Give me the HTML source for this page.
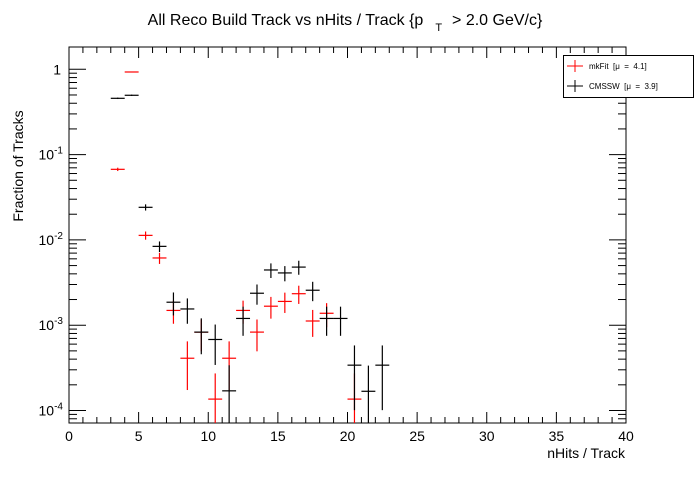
<!DOCTYPE html>
<html><head><meta charset="utf-8"><style>
body{margin:0;background:#fff;font-family:"Liberation Sans",sans-serif}
svg text{font-family:"Liberation Sans",sans-serif;white-space:pre}
</style></head><body>
<svg id="c" width="696" height="472" xmlns="http://www.w3.org/2000/svg">
<rect width="696" height="472" fill="#fff"/>
<text x="345" y="25" font-size="16" text-anchor="middle">All Reco Build Track vs nHits / Track {p<tspan dx="12" dy="6" font-size="11">T</tspan><tspan dx="10" dy="-6">&gt; 2.0 GeV/c}</tspan></text>
<rect x="69" y="47" width="557" height="376" fill="none" stroke="#000" stroke-width="1"/>
<g id="axes"></g>
<g id="series"></g>
<text x="625" y="458" font-size="14" text-anchor="end">nHits / Track</text>
<text transform="translate(23,166) rotate(-90)" font-size="14" text-anchor="middle">Fraction of Tracks</text>
<g>
<rect x="563.5" y="55.5" width="130" height="42" fill="#fff" stroke="#000"/>
<line x1="567" x2="583" y1="66" y2="66" stroke="red"/><line x1="575" x2="575" y1="60" y2="72" stroke="red"/>
<text x="589" y="69" font-size="8">mkFit  [μ  =  4.1]</text>
<line x1="567" x2="583" y1="86" y2="86" stroke="#000"/><line x1="575" x2="575" y1="80" y2="92" stroke="#000"/>
<text x="589" y="89" font-size="8">CMSSW  [μ  =  3.9]</text>
</g>
</svg>
<script>
const binCenters=[3.5,4.5,5.5,6.5,7.5,8.5,9.5,10.5,11.5,12.5,13.5,14.5,15.5,16.5,17.5,18.5,19.5,20.5,21.5,22.5];
const cmsswValues=[0.457,0.496,0.0241,0.0084,0.00186,0.00155,0.00083,0.00068,0.00017,0.0012,0.00237,0.00444,0.0041,0.0048,0.00257,0.0012,0.0012,0.00034,0.000168,0.00034];
const mkfitValues=[0.0672,0.93,0.0113,0.00614,0.00149,0.00041,0.00083,0.000136,0.00041,0.00149,0.00083,0.00167,0.0019,0.00234,0.00112,0.00138,0,0.000136,0,0];
const cmsswEntries=5950;
const mkfitEntries=7350;
const xTicks=[0,5,10,15,20,25,30,35,40];
const yDecades=[-4,-3,-2,-1,0];
const NS="http://www.w3.org/2000/svg";
const X0=69,X1=626,Y0=47,Y1=423;
function xs(v){return X0+v*(X1-X0)/40;}
function ys(v){return 69.3-85.3*Math.log10(v);}
function mk(tag,at,parent){const e=document.createElementNS(NS,tag);for(const k in at)e.setAttribute(k,at[k]);parent.appendChild(e);return e;}
const ax=document.getElementById('axes');
for(let i=0;i<=40;i++){const x=xs(i);const L=(i%5===0)?11:6;
 mk('line',{x1:x,x2:x,y1:Y1,y2:Y1-L,stroke:'#000'},ax);
 mk('line',{x1:x,x2:x,y1:Y0,y2:Y0+L,stroke:'#000'},ax);}
xTicks.forEach(t=>{const e=mk('text',{x:xs(t),y:441,'font-size':14,'text-anchor':'middle'},ax);
 
 
 e.textContent=t;});
for(let d=-5;d<=0;d++){for(let m=1;m<=9;m++){const v=m*Math.pow(10,d);const y=ys(v);if(y<Y0||y>Y1)continue;
 const L=m===1?17:8;
 mk('line',{x1:X0,x2:X0+L,y1:y,y2:y,stroke:'#000'},ax);
 mk('line',{x1:X1,x2:X1-L,y1:y,y2:y,stroke:'#000'},ax);}}
yDecades.forEach(d=>{const y=ys(Math.pow(10,d));
 const e=mk('text',{x:61,y:y+5,'font-size':14,'text-anchor':'end'},ax);
 
 
 if(d===0){e.textContent='1';}else{
 e.textContent='10';const s=document.createElementNS(NS,'tspan');s.setAttribute('dy','-6');s.setAttribute('font-size','10');s.textContent=String(d);e.appendChild(s);
 e.setAttribute('x',63);}});
const sg=document.getElementById('series');
function drawSeries(vals,N,color,name){
 vals.forEach((v,i)=>{if(v<=0)return;const c=binCenters[i];
  const g=mk('g',{},sg);
  
  
  const err=Math.sqrt(v*N)/N;
  const y=ys(v);
  const yl=(v-err)>0?Math.min(ys(v-err),Y1):Y1;
  const yh=Math.max(ys(v+err),Y0);
  mk('line',{x1:xs(c-0.5),x2:xs(c+0.5),y1:y,y2:y,stroke:color,'stroke-width':1.2},g);
  mk('line',{x1:xs(c),x2:xs(c),y1:yl,y2:yh,stroke:color,'stroke-width':1.2},g);});
}
drawSeries(mkfitValues,mkfitEntries,'red','mkfit');
drawSeries(cmsswValues,cmsswEntries,'#000','cmssw');
</script>
</body></html>
